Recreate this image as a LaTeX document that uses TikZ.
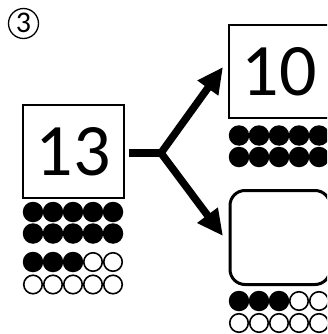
\documentclass[tikz,border=0pt]{standalone}
\usepackage{fontspec}
\setmainfont{Carlito}
\usetikzlibrary{arrows.meta}
\tikzset{
  numbox/.style={draw, line width=1.6pt, minimum width=101pt, minimum height=93pt, inner sep=0pt, font=\fontsize{74}{74}\selectfont},
  blankbox/.style={draw, line width=3pt, rounded corners=15pt, minimum width=100pt, minimum height=94pt, inner sep=0pt},
  fulldot/.style={circle, fill=black, minimum size=20.5pt, inner sep=0pt},
  emptydot/.style={circle, draw=black, line width=1.6pt, fill=white, minimum size=18.5pt, inner sep=0pt},
  bigarrow/.style={line width=7.5pt, -{Triangle[length=26pt,width=24pt]}},
  circled/.style={circle, draw, line width=1.3pt, minimum size=30pt, inner sep=0pt, font=\fontsize{30}{30}\selectfont},
}
\begin{document}
\begin{tikzpicture}[x=1pt,y=-1pt]
\clip (0,0) rectangle (327,334);
\fill[white] (0,0) rectangle (327,334);
\node[circled] (mark) at (23.5,23.5) {\raisebox{0.5pt}{3}};
\node[numbox] (a) at (73.5,151.5) {13};
\node[numbox] (b) at (279.5,71.5) {10};
\node[blankbox] (c) at (280,237.5) {};
% dots under 13
\foreach \i in {0,...,4} {
  \node[fulldot] (a1\i) at (33+20*\i,212) {};
  \node[fulldot] (a2\i) at (33+20*\i,233.5) {};
}
\foreach \i in {0,1,2} \node[fulldot] (a3\i) at (33+20*\i,262) {};
\foreach \i in {3,4} \node[emptydot] (a3\i) at (33+20*\i,262) {};
\foreach \i in {0,...,4} \node[emptydot] (a4\i) at (33+20*\i,284.5) {};
% dots under 10
\foreach \i in {0,...,4} {
  \node[fulldot] (b1\i) at (239+20*\i,135.5) {};
  \node[fulldot] (b2\i) at (239+20*\i,157) {};
}
% dots under blank
\foreach \i in {0,1,2} \node[fulldot] (c1\i) at (239+20*\i,301) {};
\foreach \i in {3,4} \node[emptydot] (c1\i) at (239+20*\i,301) {};
\foreach \i in {0,...,4} \node[emptydot] (c2\i) at (239+20*\i,323) {};
% connectors
\coordinate (j) at (163,153);
\coordinate (tu) at (223,67);
\coordinate (td) at (223,236);
\draw[line width=7.5pt] (a.east) ++(4,1.5) coordinate (s) -- (j);
\draw[bigarrow] ([xshift=-2pt]j) -- (tu);
\draw[bigarrow] ([xshift=-2pt]j) -- (td);
\end{tikzpicture}
\end{document}
